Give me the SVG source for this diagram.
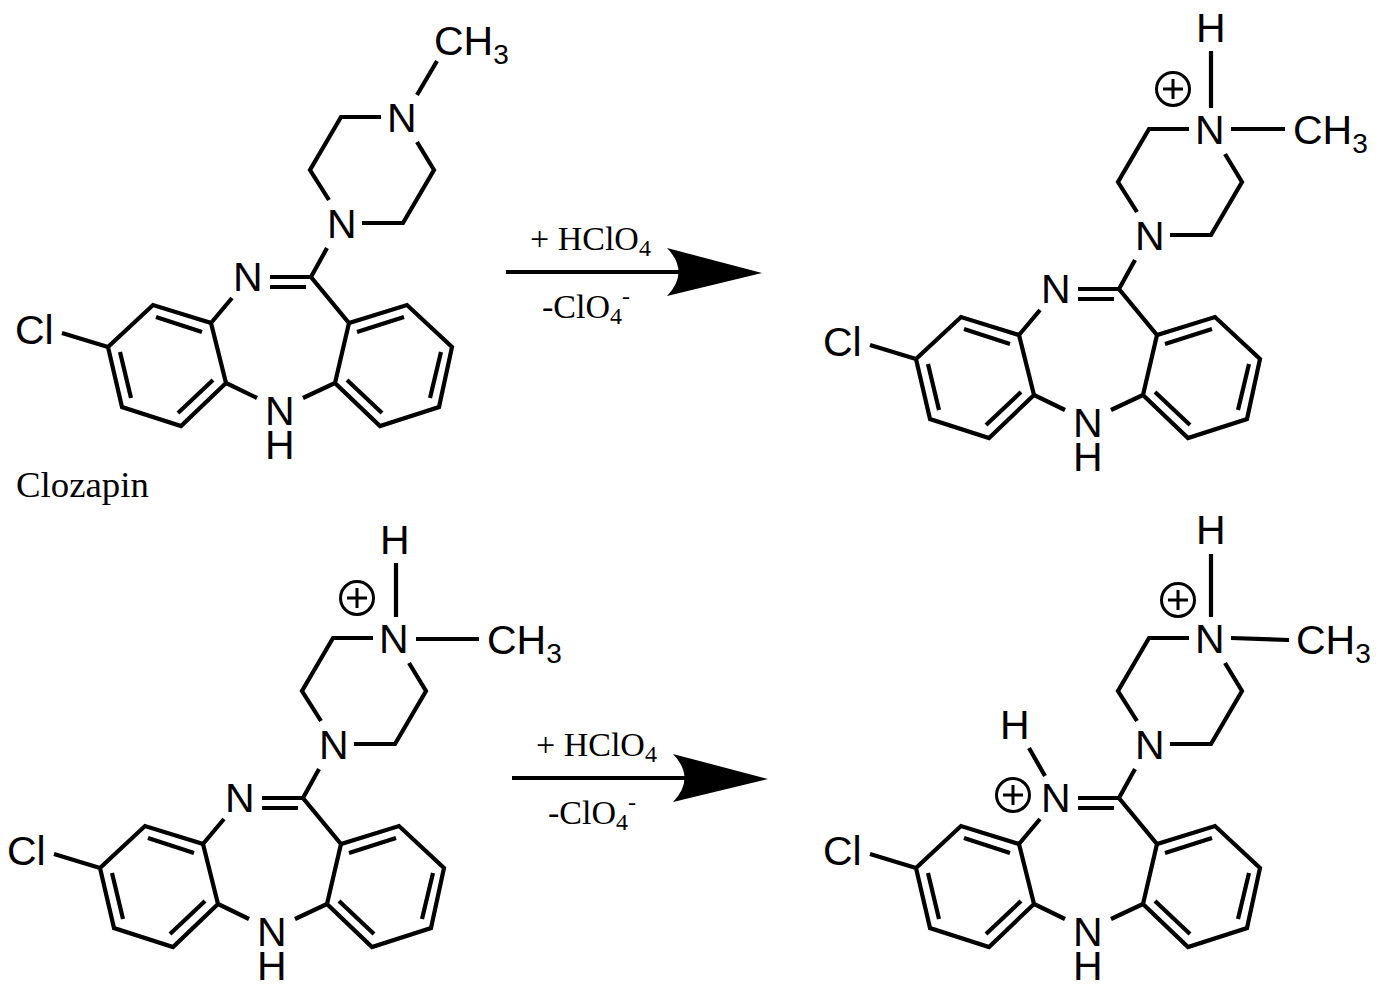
<svg xmlns="http://www.w3.org/2000/svg" width="1382" height="992" viewBox="0 0 1382 992">
<style>
.b{fill:none;stroke:#000;stroke-width:4.2;stroke-linejoin:miter}
.a{font-family:"Liberation Sans",Arial,sans-serif;font-size:41px;fill:#000}
.s{font-size:28px}
.t{font-family:"Liberation Serif","Times New Roman",serif;font-size:34px;fill:#000}
.u{font-size:24px}
.c{fill:none;stroke:#000;stroke-width:3}
.p{fill:#000;stroke:none}
.m{fill:none;stroke:#000;stroke-width:3}
</style>
<defs>
<path id="core" class="b" d="M270 277H311M270 287H306M327 248L311 277L349 323L407 305L452 347L439 407L380 426L335 383L349 323M357 332L404 317M441 352L430 398M382 413L347 380M335 383L303 398M257 398L226 383L211 323L153 305L108 347L122 407L181 426L226 383M202 332L156 317M120 352L131 398M178 413L213 380M232 298L211 323M62 333L108 347M329 200L310 170L341 117H381M362 223H403L434 170L417 142"/>
<g id="plus"><circle class="c" r="16.5"/><path class="m" d="M-10 0H10M0 -10V10"/></g>
</defs>
<g id="mol-clozapine">
<use href="#core"/>
<path class="b" d="M417 95L437 61"/>
<text class="a" x="434" y="55">CH<tspan class="s" dy="9">3</tspan></text>
<text class="a" x="387" y="132">N</text>
<text class="a" x="327" y="238">N</text>
<text class="a" x="233" y="291">N</text>
<text class="a" x="15" y="344">Cl</text>
<text class="a" x="265" y="425">N</text>
<text class="a" x="265" y="459">H</text>
<text class="t" x="16" y="497" style="font-size:36.8px">Clozapin</text>
</g>
<g id="mol-protonated-top" transform="translate(808 12)">
<use href="#core"/>
<path class="b" d="M403 39V96M423 117H477"/>
<use href="#plus" x="365" y="77"/>
<text class="a" x="388" y="30">H</text>
<text class="a" x="485" y="132">CH<tspan class="s" dy="9">3</tspan></text>
<text class="a" x="387" y="132">N</text>
<text class="a" x="327" y="238">N</text>
<text class="a" x="233" y="291">N</text>
<text class="a" x="15" y="344">Cl</text>
<text class="a" x="265" y="425">N</text>
<text class="a" x="265" y="459">H</text>
</g>
<g id="mol-protonated-bottom" transform="translate(-8 521)">
<use href="#core"/>
<path class="b" d="M404 42V96M424 118H487"/>
<use href="#plus" x="365" y="77"/>
<text class="a" x="388" y="33">H</text>
<text class="a" x="495" y="133">CH<tspan class="s" dy="9">3</tspan></text>
<text class="a" x="387" y="132">N</text>
<text class="a" x="327" y="238">N</text>
<text class="a" x="233" y="291">N</text>
<text class="a" x="15" y="344">Cl</text>
<text class="a" x="265" y="425">N</text>
<text class="a" x="265" y="459">H</text>
</g>
<g id="mol-diprotonated" transform="translate(808 521)">
<use href="#core"/>
<path class="b" d="M403 33V96M423 117L481 119M221 227L237 255"/>
<use href="#plus" x="370" y="79"/>
<use href="#plus" x="205" y="274"/>
<text class="a" x="388" y="23">H</text>
<text class="a" x="488" y="133">CH<tspan class="s" dy="9">3</tspan></text>
<text class="a" x="387" y="132">N</text>
<text class="a" x="327" y="238">N</text>
<text class="a" x="233" y="291">N</text>
<text class="a" x="192" y="218">H</text>
<text class="a" x="15" y="344">Cl</text>
<text class="a" x="265" y="425">N</text>
<text class="a" x="265" y="459">H</text>
</g>
<g id="connectors">
<g id="arrow-top">
<path class="b" d="M506 272H682"/>
<path class="p" d="M762 273L667 248Q690 272 667 296Z"/>
</g>
<g id="arrow-bottom">
<path class="b" d="M512 778H688"/>
<path class="p" d="M768 779L673 754Q696 778 673 802Z"/>
</g>
</g>
<g id="label-top">
<text class="t" x="530" y="250">+ HClO<tspan class="u" dy="6">4</tspan></text>
<text class="t" x="542" y="318">-ClO<tspan class="u" dy="6">4</tspan><tspan class="u" dy="-20">-</tspan></text>
</g>
<g id="label-bottom">
<text class="t" x="536" y="756">+ HClO<tspan class="u" dy="6">4</tspan></text>
<text class="t" x="548" y="824">-ClO<tspan class="u" dy="6">4</tspan><tspan class="u" dy="-20">-</tspan></text>
</g>
</svg>
